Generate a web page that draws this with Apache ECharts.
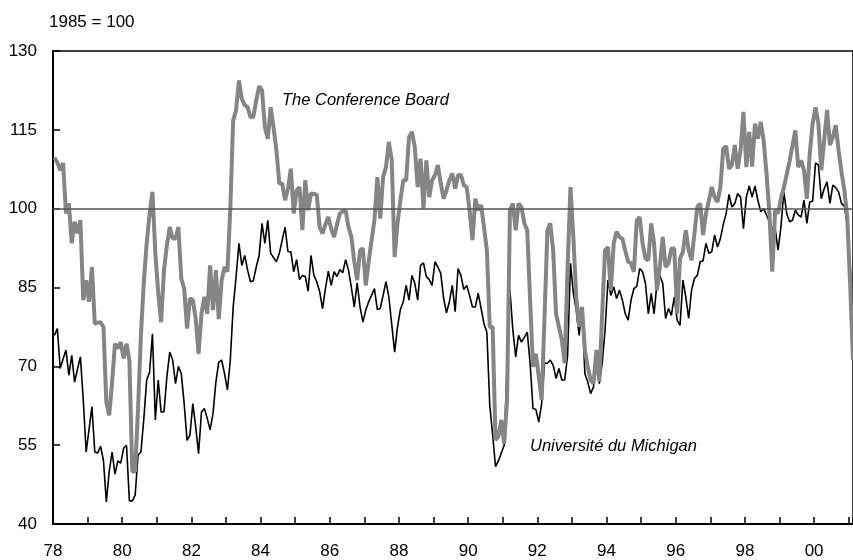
<!DOCTYPE html>
<html>
<head>
<meta charset="utf-8">
<script src="https://cdn.jsdelivr.net/npm/echarts@6/dist/echarts.min.js"></script>
<style>
html,body{margin:0;padding:0;background:#fff;}
#chart{width:853px;height:560px;}
</style>
</head>
<body>
<div id="chart"></div>
<script>
// Monthly values, Jan 1978 .. Feb 2001 (index 1985 = 100)
var startYear = 1978;
var conferenceBoard = [
109.7,108.8,107.3,108.7,99.1,101,93.4,97.5,95.3,97.8,82.6,86.4,
82.3,88.9,78.1,78.3,78.4,77.5,63.2,60.7,67,74.3,73.4,74.6,
71.5,74.3,71.2,50,50,62,76,86,93.4,99,103.2,91.5,
84,78.4,88.3,93,96.5,94.3,94.3,96.5,86.7,84.8,77.2,82.9,
82.6,79.1,72.4,80,83.2,80,89.2,80.7,88.3,79,86.4,88.9,
88,100,116.8,118.7,124.4,120.9,119.7,119.3,117.4,117.5,120.6,123.3,
122.5,115.5,113.3,119.3,115.5,111.1,104.8,104.8,101.6,103.8,107.6,99.1,
103.5,104.1,95.9,105.4,99.7,102.9,102.8,102.6,96.5,95.3,97,98.4,
96.2,94.6,97,99.1,99.5,99.7,96.5,94.6,90,86.4,92.1,92.4,
85.4,90,94,97.8,106,98.1,106,107.9,112.7,109.2,90.8,97.2,
101.6,105.4,105.4,113.6,114.6,111.7,104.1,109.5,100,109.2,102.2,105.4,
106.4,108.3,104.8,101.9,103.5,105.4,106.7,103.8,106.4,106.4,104.5,104.1,
99.7,94,101.9,99.7,100.7,96.5,92.1,77.5,77.5,56,56.6,59.8,
55.3,63.6,99.7,101,95.9,101,100.3,97.2,95.9,82.6,69.9,72.4,
68,63.6,79.4,95.9,97.2,92,80,77.5,75,70.6,88.9,104.1,
94.6,83.2,77.5,81.3,73.1,69.9,67.4,66.7,73.1,67.1,80,92.1,
92.7,84.5,93.4,95.6,94.6,94.3,92,89.9,89.6,88,97.8,98.4,
93.4,90.5,90.2,97.2,93.4,84.5,88.9,94.6,88.9,89.6,92.4,92.4,
80,90.5,91.8,95.9,92.1,90.2,95.3,100.3,101,95,99.1,101.5,
104.1,102.2,101.3,104.1,111.4,111.9,107.6,108.3,112.1,107.6,111.1,118.4,
107.9,114.6,108,116.2,113.3,116.5,113,106.7,99.1,88,99.7,99.1,
102,104,106.5,109,112,114.9,107.9,109.2,107.3,101.9,110.5,116.2,
119.3,116.2,107.3,113,118.8,112.1,113.6,115.9,111.1,107,103.5,98.4,
85.8,71.2
];
var michigan = [
75.9,77.2,69.6,71.4,73.1,68.3,72.1,67,69.5,71.8,63.6,53.7,
58,62.3,53.7,53.5,54.8,52.1,44.2,50,53.7,49.5,52,51.6,
54.4,55,44.4,44.4,45.5,53.1,53.7,60,67.4,68.9,76.2,59.8,
67.4,61.3,61.3,68,72.7,71.2,66.7,70,68.6,62.9,55.9,56.9,
62.9,58.5,53.4,61.3,62,60.1,57.9,61,67,70.8,71.2,68.6,
65.5,71.2,81.3,87,93.4,89.2,91.1,88.3,86.1,86.3,88.9,91.1,
97.2,93.4,97.8,91.5,90.7,89.9,91.5,94,96.5,91.8,91.8,88,
90.3,86.5,87.3,87.1,84.3,91.1,87.3,86.1,84.2,81,84.8,88.1,
85.4,88,87.1,88.4,87.8,90.3,88.3,85,81.3,85.9,81.3,78.4,
80.7,82.3,83.5,84.8,80.8,81,83.5,86.1,83.2,78,72.7,77.5,
80.8,82.3,85.4,82.6,87.3,85.8,82.6,89.2,89.7,87.1,86.5,85.4,
89.9,88.9,87.7,82.9,80.2,82.3,85.4,80.4,88.6,87.3,84.6,85.4,
83.5,81.3,81.3,83.9,81,78.1,76.5,62.6,57,50.9,52,53.5,
55,70,84.5,77,71.8,75.9,74.6,75.5,76.5,70.6,62,61.8,
59.4,62.9,70.6,70.6,71.2,70.2,67.7,69.6,67.4,67.4,72,89.6,
83.9,80.7,75.9,81,68.6,67,64.8,66.1,73.1,66.7,70.6,76.9,
86.4,83.5,85.1,82.9,84.5,82.6,80,78.8,82.6,84.8,85.2,88.6,
88,85.8,80,83.9,80,85.8,87.3,85.8,79.1,81,79.7,83.2,
78.8,77.8,86.4,83.2,79.1,84.5,86.7,87.3,89.9,90.1,93.4,91.5,
91.8,95,92.7,94.3,97,99.1,102.7,100.3,101,102.9,102.2,96.2,
102.2,104.3,102.2,104.3,101.6,99.4,100,98.8,97.5,96.2,96.2,92.1,
96.5,103.2,99.1,97.5,97.8,99.7,98.8,98.4,101.6,97.2,101.3,101.4,
108.7,108.3,101.9,103.8,105.1,101,104.5,104,103.2,101,100.5,97,
89,80
];
var yTicks = [40, 55, 70, 85, 100, 115, 130];
var seriesNames = ['The Conference Board', 'Université du Michigan'];
var unitNote = '1985 = 100';

function toPoints(arr) {
  return arr.map(function (v, i) { return [startYear + (i + 0.5) / 12, v]; });
}

var chart = echarts.init(document.getElementById('chart'), null, {renderer: 'canvas'});
var FONT = '"Liberation Sans", Arial, sans-serif';
chart.setOption({
  animation: false,
  backgroundColor: '#fff',
  grid: {left: 53, right: 0, top: 51, bottom: 36, show: true, borderColor: '#000', borderWidth: 1.5,
         backgroundColor: 'transparent', containLabel: false, outerBoundsMode: 'none'},
  xAxis: {
    type: 'value', min: 1978, max: 2001.125, interval: 1,
    axisLine: {show: true, lineStyle: {color: '#000', width: 2}},
    axisTick: {show: true, inside: true, length: 7, lineStyle: {color: '#000', width: 1.5}},
    splitLine: {show: false},
    axisLabel: {
      color: '#000', fontSize: 17, fontFamily: FONT, margin: 19, showMinLabel: true, showMaxLabel: true,
      formatter: function (v) {
        var r = Math.round(v);
        if (Math.abs(v - r) > 1e-6 || r % 2 !== 0) return '';
        return String(r).slice(2);
      }
    }
  },
  yAxis: {
    type: 'value', min: yTicks[0], max: yTicks[yTicks.length - 1], interval: 15,
    axisLine: {show: true, lineStyle: {color: '#000', width: 2}},
    axisTick: {show: true, inside: true, length: 7, lineStyle: {color: '#000', width: 1.5}},
    splitLine: {show: false},
    axisLabel: {color: '#000', fontSize: 17, fontFamily: FONT, margin: 16}
  },
  series: [
    {
      name: seriesNames[1], type: 'line', data: toPoints(michigan), showSymbol: false, symbol: 'none',
      lineStyle: {color: '#000', width: 1.6}, z: 2
    },
    {
      name: seriesNames[0], type: 'line', data: toPoints(conferenceBoard), showSymbol: false, symbol: 'none',
      lineStyle: {color: '#858585', width: 4}, z: 3,
      markLine: {
        silent: true, symbol: 'none', label: {show: false}, z: 5,
        lineStyle: {color: '#555', width: 1.5, type: 'solid'},
        data: [{yAxis: 100}]
      }
    }
  ],
  graphic: [
    {type: 'text', left: 49, top: 14, style: {text: unitNote, fill: '#000', font: '17px ' + FONT}},
    {type: 'text', x: 282, y: 100, style: {text: seriesNames[0], fill: '#000', font: 'italic 16.5px ' + FONT, textVerticalAlign: 'middle', textAlign: 'left'}},
    {type: 'text', x: 530, y: 446, style: {text: seriesNames[1], fill: '#000', font: 'italic 16.5px ' + FONT, textVerticalAlign: 'middle', textAlign: 'left'}}
  ]
});
</script>
</body>
</html>
